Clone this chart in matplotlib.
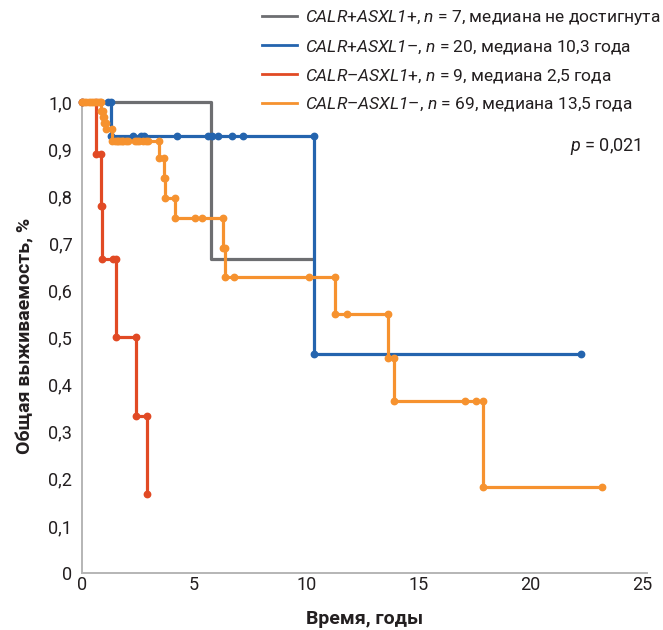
import matplotlib
matplotlib.use('Agg')
import matplotlib.pyplot as plt
from matplotlib.lines import Line2D

plt.rcParams['font.family'] = ['Roboto', 'DejaVu Sans']
# math mode is only used for the italic pieces, so make all of it italic
plt.rcParams['mathtext.fontset'] = 'custom'
plt.rcParams['mathtext.rm'] = 'Roboto:italic'
plt.rcParams['mathtext.it'] = 'Roboto:italic'
plt.rcParams['mathtext.bf'] = 'Roboto:bold'

# Kaplan-Meier curves, vertices (time in years, survival)
gray_t = [0, 5.77, 5.77, 10.3]
gray_s = [1.0, 1.0, 0.667, 0.667]

blue_t = [0, 1.16, 1.3, 1.3, 2.27, 2.64, 2.77, 4.23, 5.62, 5.8, 6.08, 6.71, 7.2,
          10.33, 10.33, 22.27]
blue_s = [1.0, 1.0, 1.0, 0.928, 0.928, 0.928, 0.928, 0.928, 0.928, 0.928, 0.928,
          0.928, 0.928, 0.928, 0.464, 0.464]

red_t = [0, 0.61, 0.61, 0.85, 0.85, 0.9, 0.9, 1.4, 1.5, 1.5, 2.41, 2.41, 2.89, 2.89]
red_s = [1.0, 1.0, 0.889, 0.889, 0.778, 0.778, 0.667, 0.667, 0.667, 0.5, 0.5,
         0.333, 0.333, 0.167]

orange_t = [0, 0.1, 0.2, 0.3, 0.4, 0.5, 0.6, 0.7, 0.8, 0.85, 0.85, 0.92, 0.92,
            0.98, 0.98, 1.05, 1.05, 1.35, 1.35, 1.45, 1.55, 1.62, 1.7, 1.78, 1.85,
            1.95, 2.05, 2.35, 2.45, 2.55, 2.7, 2.85, 2.95, 3.42, 3.42, 3.67, 3.67,
            3.71, 3.71, 4.16, 4.16, 5.05, 5.35, 6.29, 6.29, 6.36, 6.36, 6.8, 10.12,
            11.28, 11.28, 11.81, 13.64, 13.64, 13.92, 13.92, 17.1, 17.58, 17.88,
            17.88, 23.2]
orange_s = [1.0, 1.0, 1.0, 1.0, 1.0, 1.0, 1.0, 1.0, 1.0, 1.0, 0.98, 0.98, 0.968,
            0.968, 0.956, 0.956, 0.943, 0.943, 0.917, 0.917, 0.917, 0.917, 0.917,
            0.917, 0.917, 0.917, 0.917, 0.917, 0.917, 0.917, 0.917, 0.917, 0.917,
            0.917, 0.88, 0.88, 0.838, 0.838, 0.795, 0.795, 0.753, 0.753, 0.753,
            0.753, 0.689, 0.689, 0.628, 0.628, 0.628, 0.628, 0.549, 0.549, 0.549,
            0.457, 0.457, 0.366, 0.366, 0.366, 0.366, 0.183, 0.183]

labels = [
    r'$CALR$+$ASXL1$+, $n$ = 7, медиана не достигнута',
    r'$CALR$+$ASXL1$–, $n$ = 20, медиана 10,3 года',
    r'$CALR$–$ASXL1$+, $n$ = 9, медиана 2,5 года',
    r'$CALR$–$ASXL1$–, $n$ = 69, медиана 13,5 года',
]
colors = ['#6d6e71', '#2464ae', '#e14a24', '#f6922f']

y_ticks = [0, 0.1, 0.2, 0.3, 0.4, 0.5, 0.6, 0.7, 0.8, 0.9, 1.0]
y_ticklabels = ['0', '0,1', '0,2', '0,3', '0,4', '0,5', '0,6', '0,7', '0,8', '0,9', '1,0']
x_ticks = [0, 5, 10, 15, 20, 25]

fig = plt.figure(figsize=(6.63, 6.30), dpi=100)
ax = fig.add_axes([0.1237, 0.0905, 0.8523, 0.7515])

lw = 2.3
ms = 4.6
ax.plot(gray_t, gray_s, color=colors[0], lw=lw, zorder=2, clip_on=False)
ax.plot(blue_t, blue_s, color=colors[1], lw=lw, marker='o', ms=ms,
        zorder=3, clip_on=False)
ax.plot(red_t, red_s, color=colors[2], lw=lw, marker='o', ms=ms,
        zorder=4, clip_on=False)
ax.plot(orange_t, orange_s, color=colors[3], lw=lw, marker='o', ms=ms,
        zorder=5, clip_on=False)

ax.set_xlim(0, 25.2)
ax.set_ylim(0, 1.005)
ax.set_xticks(x_ticks)
ax.set_yticks(y_ticks)
ax.set_yticklabels(y_ticklabels)
ax.tick_params(length=0, labelsize=13, colors='#231f20')
ax.tick_params(axis='y', pad=7)
ax.tick_params(axis='x', pad=2)
for side in ['top', 'right']:
    ax.spines[side].set_visible(False)
for side in ['left', 'bottom']:
    ax.spines[side].set_color('#b5b5b5')
    ax.spines[side].set_linewidth(1.4)

ax.set_xlabel('Время, годы', fontsize=14, fontweight='bold', color='#231f20',
              labelpad=12)
ax.set_ylabel('Общая выживаемость, %', fontsize=14, fontweight='bold',
              color='#231f20', labelpad=10)

ax.text(24.95, 0.905, r'$p$ = 0,021', ha='right', va='center',
        fontsize=13, color='#231f20')

handles = [Line2D([], [], color=c, lw=2) for c in colors]
fig.legend(handles, labels, loc='upper left', bbox_to_anchor=(262 / 663, 1 - 8 / 630),
           frameon=False, fontsize=12.5, handlelength=2.0, handletextpad=0.5,
           labelspacing=0.62, borderpad=0, borderaxespad=0, labelcolor='#231f20')

fig.savefig('out.png', dpi=100)
